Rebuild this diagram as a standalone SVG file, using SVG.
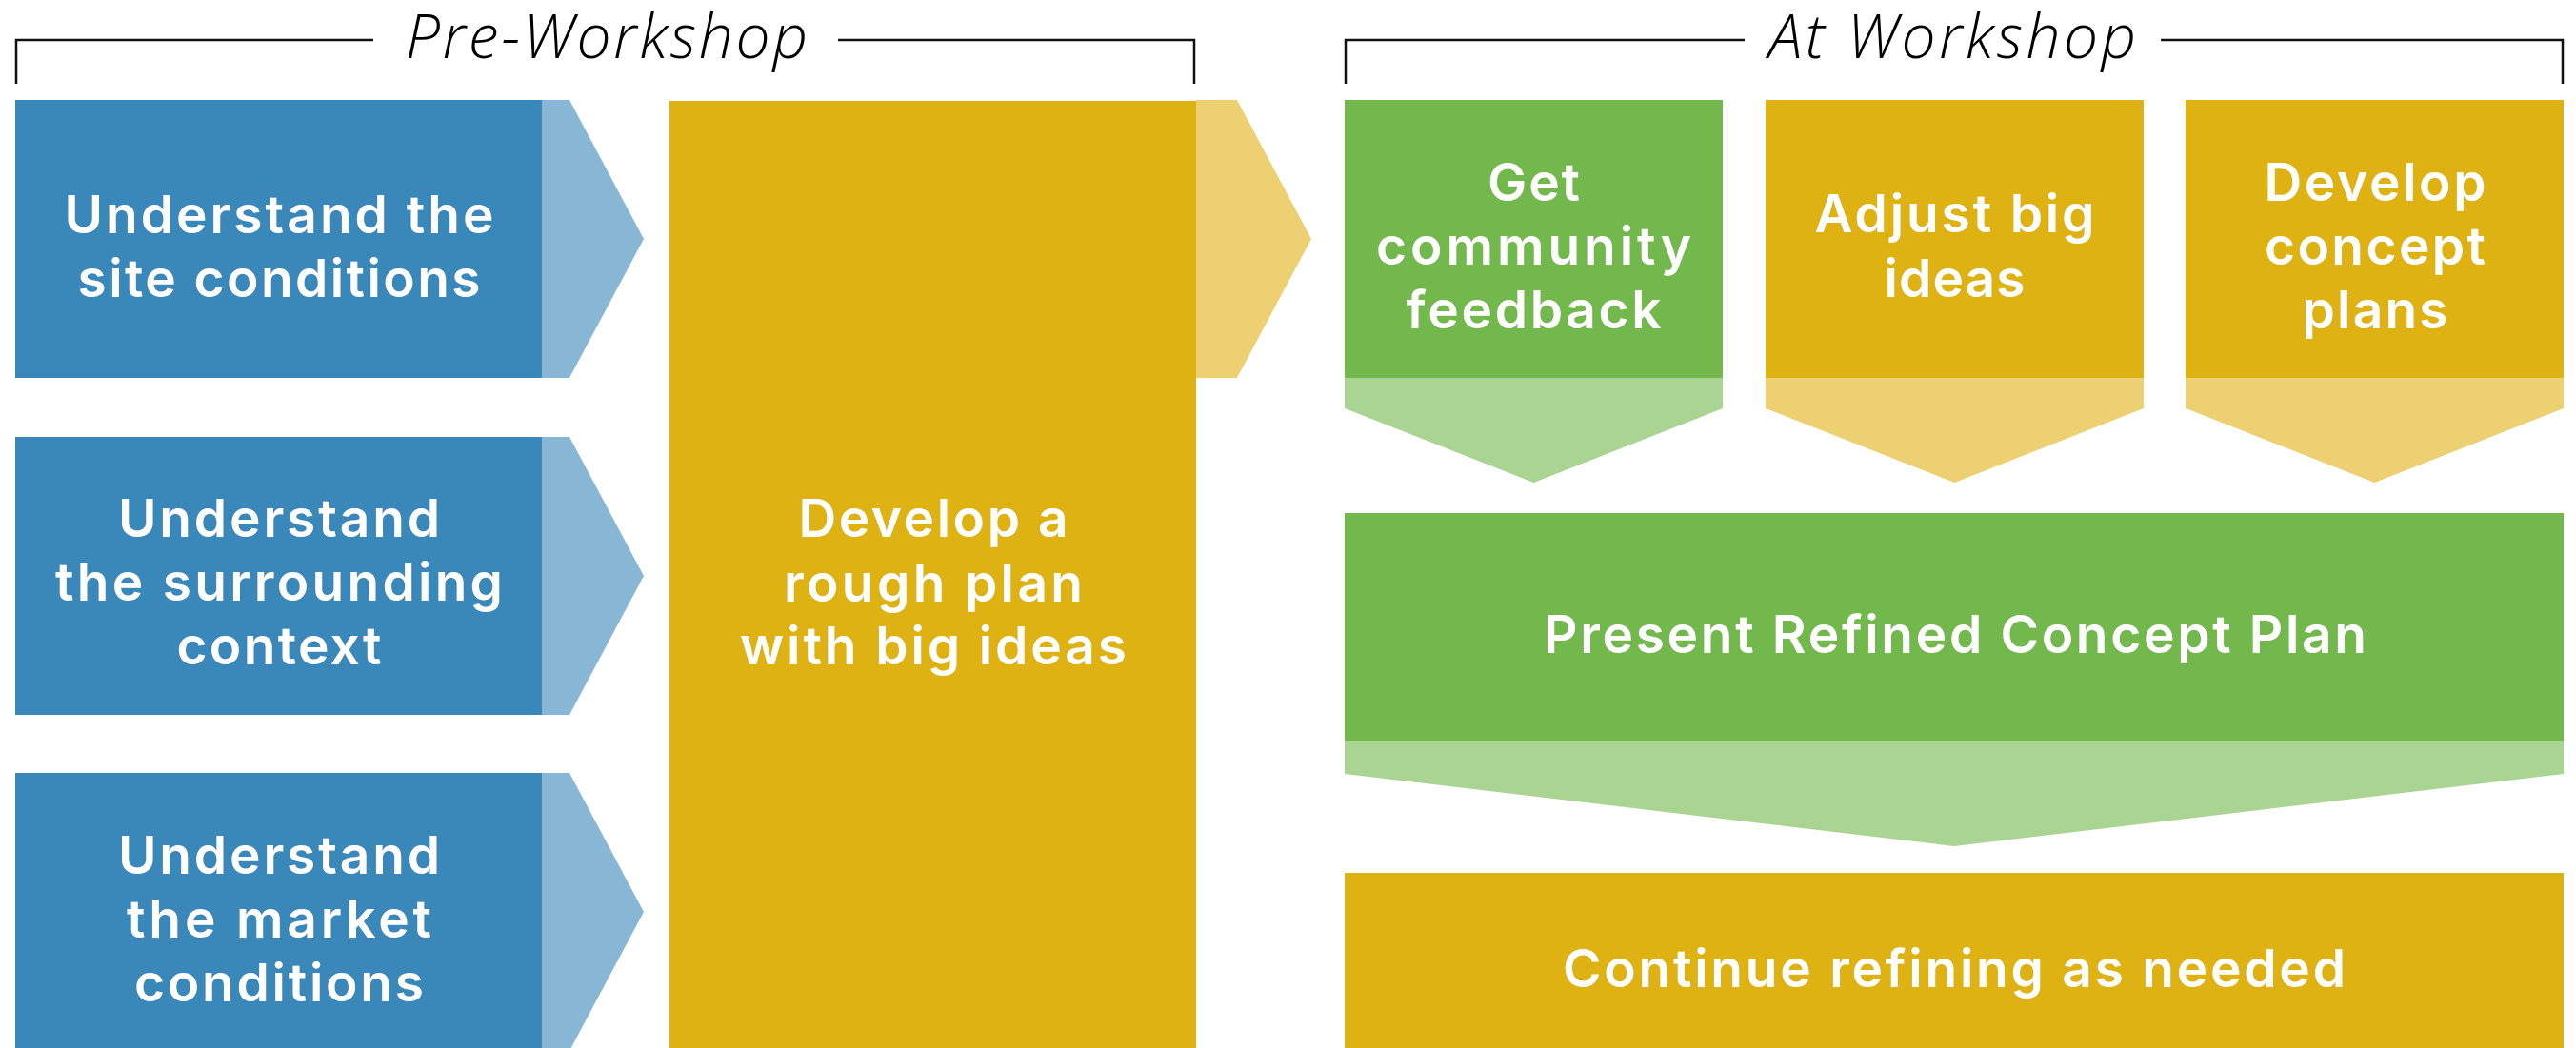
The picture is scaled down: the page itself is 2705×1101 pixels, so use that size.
<svg xmlns="http://www.w3.org/2000/svg" width="2705" height="1101" viewBox="0 0 2705 1101">
<style>
.lbl{font-family:Inter,"Open Sans","Liberation Sans",sans-serif;font-weight:600;font-size:55px;fill:#ffffff;text-anchor:middle}
.hdr{font-family:"Open Sans","Liberation Sans",sans-serif;font-weight:300;font-style:italic;font-size:64px;fill:#000000;text-anchor:middle}
.brk{fill:none;stroke:#111111;stroke-width:2.5}
.blue{fill:#3A88BA}.lblue{fill:#88B7D5}
.yel{fill:#DFB213}.lyel{fill:#ECD071}
.grn{fill:#72B84C}.lgrn{fill:#A9D492}
</style>
<rect width="2705" height="1101" fill="#ffffff"/>
<g id="header-pre">
<path class="brk" d="M17,88 V42 H392 M880,42 H1254 V88"/>
<text class="hdr" x="637" y="61" textLength="422">Pre-Workshop</text>
</g>
<g id="header-at">
<path class="brk" d="M1413,88 V42 H1832 M2269,42 H2691 V88"/>
<text class="hdr" x="2050" y="61" textLength="386">At Workshop</text>
</g>
<g id="connectors">
<polygon class="lblue" points="569,105 598,105 676,251 598,397 569,397"/>
<polygon class="lblue" points="569,459 598,459 676,605 598,751 569,751"/>
<polygon class="lblue" points="569,812 598,812 676,958 598,1104 569,1104"/>
<polygon class="lyel" points="1256,105 1299,105 1377,251 1299,397 1256,397"/>
<polygon class="lgrn" points="1412,397 1809,397 1809,429 1610.5,507 1412,429"/>
<polygon class="lyel" points="1854,397 2251,397 2251,429 2052.5,507 1854,429"/>
<polygon class="lyel" points="2295,397 2692,397 2692,429 2493.5,507 2295,429"/>
<polygon class="lgrn" points="1412,778 2692,778 2692,813 2052,889 1412,813"/>
</g>
<g id="site">
<rect class="blue" x="16" y="105" width="553" height="292"/>
<text class="lbl" x="293" y="245" textLength="451">Understand the</text>
<text class="lbl" x="293" y="312" textLength="423">site conditions</text>
</g>
<g id="context">
<rect class="blue" x="16" y="459" width="553" height="292"/>
<text class="lbl" x="293" y="564" textLength="338">Understand</text>
<text class="lbl" x="293" y="631" textLength="470">the surrounding</text>
<text class="lbl" x="293" y="698" textLength="215">context</text>
</g>
<g id="market">
<rect class="blue" x="16" y="812" width="553" height="292"/>
<text class="lbl" x="293" y="918" textLength="338">Understand</text>
<text class="lbl" x="293" y="985" textLength="320">the market</text>
<text class="lbl" x="293" y="1052" textLength="304">conditions</text>
</g>
<g id="rough-plan">
<rect class="yel" x="703" y="106" width="553" height="1000"/>
<text class="lbl" x="980" y="564" textLength="283">Develop a</text>
<text class="lbl" x="980" y="632" textLength="314">rough plan</text>
<text class="lbl" x="980" y="698" textLength="406">with big ideas</text>
</g>
<g id="feedback">
<rect class="grn" x="1412" y="105" width="397" height="292"/>
<text class="lbl" x="1610.5" y="211" textLength="97">Get</text>
<text class="lbl" x="1610.5" y="278" textLength="331">community</text>
<text class="lbl" x="1610.5" y="345" textLength="268">feedback</text>
</g>
<g id="adjust">
<rect class="yel" x="1854" y="105" width="397" height="292"/>
<text class="lbl" x="2052.5" y="244" textLength="294">Adjust big</text>
<text class="lbl" x="2052.5" y="312" textLength="148">ideas</text>
</g>
<g id="concept-plans">
<rect class="yel" x="2295" y="105" width="397" height="292"/>
<text class="lbl" x="2494" y="211" textLength="233">Develop</text>
<text class="lbl" x="2494" y="278" textLength="232">concept</text>
<text class="lbl" x="2494" y="345" textLength="153">plans</text>
</g>
<g id="present">
<rect class="grn" x="1412" y="539" width="1280" height="239"/>
<text class="lbl" x="2053" y="686" textLength="864">Present Refined Concept Plan</text>
</g>
<g id="continue">
<rect class="yel" x="1412" y="917" width="1280" height="190"/>
<text class="lbl" x="2052" y="1037" textLength="822">Continue refining as needed</text>
</g>
</svg>
